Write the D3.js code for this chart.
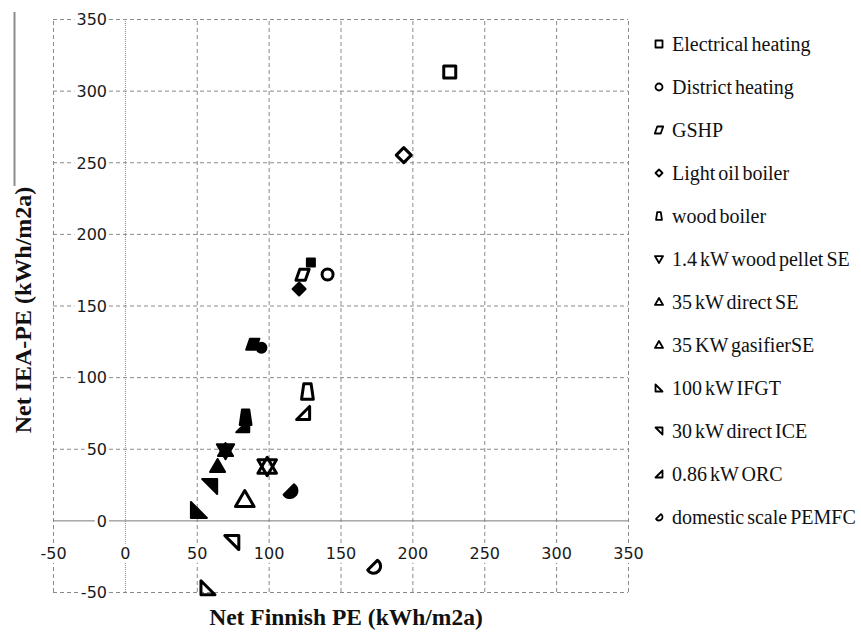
<!DOCTYPE html>
<html>
<head>
<meta charset="utf-8">
<script src="https://cdn.jsdelivr.net/npm/d3@7"></script>
<style>
  html, body { margin: 0; padding: 0; background: #fff; }
  svg { display: block; }
</style>
</head>
<body>
<svg id="chart" width="861" height="632"></svg>
<script>
// ---- data ----
const seriesNames = [
  "Electrical heating", "District heating", "GSHP", "Light oil boiler",
  "wood boiler", "1.4 kW wood pellet SE", "35 kW direct SE", "35 KW gasifierSE",
  "100 kW IFGT", "30 kW direct ICE", "0.86 kW ORC", "domestic scale PEMFC"
];
const markerShapes = ["square", "circle", "para", "diamond", "trap", "triDown",
  "triUp", "triUp", "rtBL", "rtTR", "rtBR", "halfc"];
// open-marker points
const openFinnish = [226, 141, 123.6, 194, 127, 99, 99, 83.4, 57.8, 74.4, 124, 173];
const openIEA     = [313, 171.6, 171.5, 255, 90, 37.6, 37.6, 14.3, -47, -15.5, 75, -32];
// filled-marker points
const fillFinnish = [129.4, 95, 89, 121.2, 84, 70, 70, 64.5, 51.5, 59, 82, 114.8];
const fillIEA     = [180, 120.5, 123, 161.5, 72, 48.7, 48.7, 37.6, 7.3, 23.6, 66, 20.8];
const xTicks = [-50, 0, 50, 100, 150, 200, 250, 300, 350];
const yTicks = [-50, 0, 50, 100, 150, 200, 250, 300, 350];

// ---- layout ----
const svg = d3.select("#chart");
const x = d3.scaleLinear().domain([-50, 350]).range([53, 628]);
const y = d3.scaleLinear().domain([-50, 350]).range([592, 19]);
const gridColor = "#8a8a8a";
const fmt = d => String(d);

// decorative left border fragment
svg.append("line").attr("x1", 14.5).attr("x2", 14.5).attr("y1", 12).attr("y2", 186)
  .attr("stroke", "#8c8c8c").attr("stroke-width", 2);

// gridlines via axes
const gx = svg.append("g").attr("transform", `translate(0,${y(-50)})`)
  .call(d3.axisBottom(x).tickValues(xTicks).tickSize(-(y(-50) - y(350))).tickFormat(""));
gx.select(".domain").remove();
gx.selectAll(".tick line").attr("stroke", gridColor).attr("stroke-width", 1)
  .attr("stroke-dasharray", d => d === 0 ? "1,1" : "4,3");

const gy = svg.append("g").attr("transform", `translate(${x(-50)},0)`)
  .call(d3.axisLeft(y).tickValues(yTicks).tickSize(-(x(350) - x(-50))).tickFormat(""));
gy.select(".domain").remove();
gy.selectAll(".tick line").attr("stroke", d => d === 0 ? "#7a7a7a" : gridColor)
  .attr("stroke-width", 1).attr("stroke-dasharray", d => d === 0 ? null : "4,3");

// y tick labels (near x = 0 axis), white background
const yl = svg.append("g").attr("transform", "translate(107,0)")
  .call(d3.axisLeft(y).tickValues(yTicks).tickSize(0).tickPadding(0).tickFormat(fmt));
yl.select(".domain").remove();
yl.selectAll(".tick text").attr("font-family", "DejaVu Sans, Verdana, sans-serif")
  .attr("font-size", 16).attr("fill", "#1a1a1a").attr("dy", "0.36em");

// x tick labels
const xl = svg.append("g").attr("transform", "translate(0,553)")
  .call(d3.axisBottom(x).tickValues(xTicks).tickSize(0).tickPadding(0).tickFormat(fmt));
xl.select(".domain").remove();
xl.selectAll(".tick text").attr("font-family", "DejaVu Sans, Verdana, sans-serif")
  .attr("font-size", 16).attr("fill", "#1a1a1a").attr("y", 0).attr("dy", "0.36em");

[yl, xl].forEach(g => {
  g.selectAll(".tick").each(function () {
    const t = d3.select(this).select("text");
    const b = t.node().getBBox();
    d3.select(this).insert("rect", "text")
      .attr("x", b.x - 2).attr("y", b.y).attr("width", b.width + 4).attr("height", b.height)
      .attr("fill", "#fff");
  });
});

// axis titles
svg.append("text").attr("x", 346).attr("y", 625).attr("text-anchor", "middle")
  .attr("font-family", "Liberation Serif, Times New Roman, serif").attr("font-weight", "bold")
  .attr("font-size", 23.5).attr("fill", "#111").text("Net Finnish PE (kWh/m2a)");
svg.append("text").attr("transform", "translate(31,310) rotate(-90)").attr("text-anchor", "middle")
  .attr("font-family", "Liberation Serif, Times New Roman, serif").attr("font-weight", "bold")
  .attr("font-size", 24).attr("fill", "#111").text("Net IEA-PE (kWh/m2a)");

// ---- marker shapes ----
function shapePath(kind, s) {
  const h = s / 2;
  const poly = pts => "M" + pts.map(p => p.join(",")).join("L") + "Z";
  switch (kind) {
    case "square": return poly([[-h, -h], [h, -h], [h, h], [-h, h]]);
    case "circle": return `M${h},0A${h},${h} 0 1,1 ${-h},0A${h},${h} 0 1,1 ${h},0Z`;
    case "para": return poly([[-0.25 * s, -h], [0.6 * s, -h], [0.25 * s, h], [-0.6 * s, h]]);
    case "diamond": return poly([[0, -h], [h, 0], [0, h], [-h, 0]]);
    case "trap": return poly([[-0.26 * s, -0.55 * s], [0.26 * s, -0.55 * s], [0.42 * s, 0.55 * s], [-0.42 * s, 0.55 * s]]);
    case "triDown": return poly([[-0.58 * s, -0.42 * s], [0.58 * s, -0.42 * s], [0, 0.58 * s]]);
    case "triUp": return poly([[0, -0.58 * s], [0.58 * s, 0.42 * s], [-0.58 * s, 0.42 * s]]);
    case "rtBL": return poly([[-h, -h], [h, h], [-h, h]]);
    case "rtTR": return poly([[-h, -h], [h, -h], [h, h]]);
    case "rtBR": return poly([[h, -h], [h, h], [-h, h]]);
    case "halfc": {
      const a1 = -57 * Math.PI / 180, a2 = 147 * Math.PI / 180;
      return `M${h * Math.cos(a1)},${h * Math.sin(a1)}A${h},${h} 0 1,1 ${h * Math.cos(a2)},${h * Math.sin(a2)}Z`;
    }
  }
}
const openSize = { square: 12, circle: 11, para: 11, diamond: 15, trap: 14, triDown: 16, triUp: 16,
  rtBL: 14, rtTR: 14, rtBR: 13, halfc: 14 };
const fillSize = { square: 8, circle: 10, para: 11, diamond: 13, trap: 14, triDown: 15, triUp: 13,
  rtBL: 16, rtTR: 15, rtBR: 13, halfc: 15 };

const idx = d3.range(seriesNames.length);
// filled markers
svg.append("g").selectAll("path").data(idx).join("path")
  .attr("transform", i => `translate(${x(fillFinnish[i])},${y(fillIEA[i])})`)
  .attr("d", i => shapePath(markerShapes[i], fillSize[markerShapes[i]]))
  .attr("fill", "#000").attr("stroke", "#000").attr("stroke-width", 2).attr("stroke-linejoin", "round");
// open markers
svg.append("g").selectAll("path").data(idx).join("path")
  .attr("transform", i => `translate(${x(openFinnish[i])},${y(openIEA[i])})`)
  .attr("d", i => shapePath(markerShapes[i], openSize[markerShapes[i]]))
  .attr("fill", "none").attr("stroke", "#000").attr("stroke-width", 3).attr("stroke-linejoin", "round");

// ---- legend ----
const legendY = d3.scaleLinear().domain([0, 11]).range([44, 517]);
const lg = svg.append("g").selectAll("g").data(idx).join("g")
  .attr("transform", i => `translate(659,${legendY(i)})`);
lg.append("path").attr("d", i => shapePath(markerShapes[i], 7))
  .attr("fill", "#fff").attr("stroke", "#000").attr("stroke-width", 1.8).attr("stroke-linejoin", "round");
lg.append("text").attr("x", 13).attr("y", 7)
  .attr("font-family", "Liberation Serif, Times New Roman, serif").attr("font-size", 20)
  .attr("word-spacing", -2).attr("fill", "#111").text(i => seriesNames[i]);
</script>
</body>
</html>
